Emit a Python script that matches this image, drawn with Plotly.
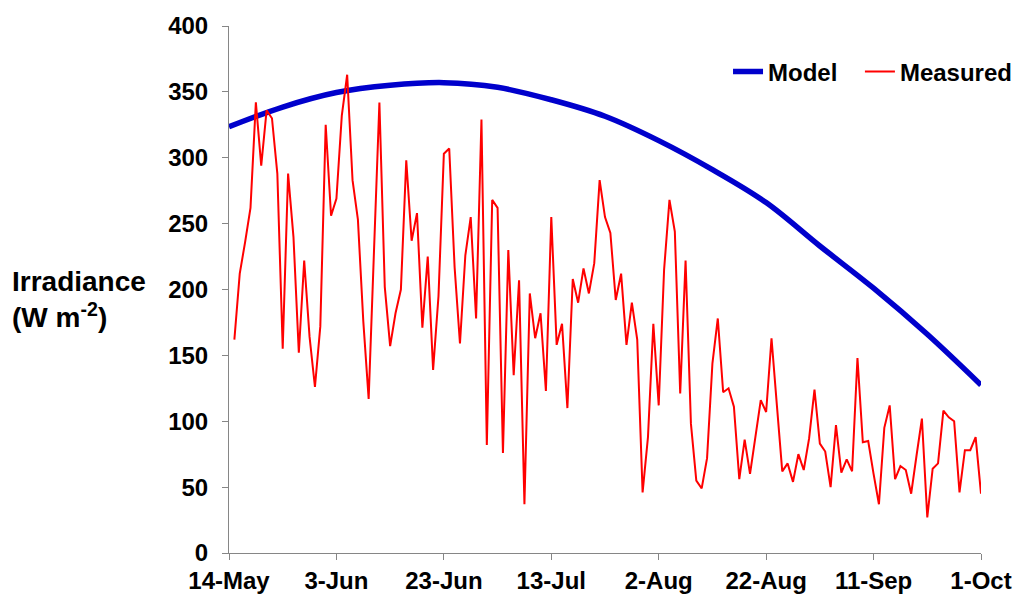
import plotly.graph_objects as go
import pandas as pd

# Measured daily irradiance, 15-May .. 1-Oct (W m-2)
measured_start = "2010-05-15"
measured = [162, 212, 236, 262, 342, 294, 336, 330, 288, 155,
            288, 240, 152, 222, 164, 126, 172, 325, 256, 269,
            332, 363, 283, 253, 176, 117, 230, 342, 202, 157,
            182, 200, 298, 237, 258, 171, 225, 139, 195, 303,
            307, 217, 159, 226, 255, 178, 329, 82, 268, 262,
            76, 230, 135, 207, 37, 197, 163, 182, 123, 255,
            158, 174, 110, 208, 190, 216, 197, 220, 283, 255,
            243, 192, 212, 158, 190, 162, 46, 88, 174, 112,
            215, 268, 244, 121, 222, 98, 55, 49, 72, 144,
            178, 122, 125, 111, 56, 86, 60, 88, 116, 107,
            163, 112, 62, 68, 54, 75, 63, 87, 124, 83,
            77, 50, 97, 61, 71, 62, 148, 84, 85, 60,
            37, 95, 112, 56, 66, 63, 45, 74, 102, 27,
            64, 68, 108, 103, 100, 46, 78, 78, 88, 45]

# Model irradiance read every 10 days from 14-May
model_dates = ["2010-05-14", "2010-05-24", "2010-06-03", "2010-06-13", "2010-06-23",
               "2010-07-03", "2010-07-13", "2010-07-23", "2010-08-02", "2010-08-12",
               "2010-08-22", "2010-09-01", "2010-09-11", "2010-09-21", "2010-10-01"]
model = [323.5, 338.5, 349.5, 355, 357, 353.5, 344, 331.5, 313, 291,
         266, 233, 201, 166, 127.5]

tick_dates = ["2010-05-14", "2010-06-03", "2010-06-23", "2010-07-13",
              "2010-08-02", "2010-08-22", "2010-09-11", "2010-10-01"]
tick_labels = ["14-May", "3-Jun", "23-Jun", "13-Jul", "2-Aug", "22-Aug", "11-Sep", "1-Oct"]
y_ticks = [0, 50, 100, 150, 200, 250, 300, 350, 400]

measured_dates = pd.date_range(measured_start, periods=len(measured), freq="D")

FONT = "Liberation Sans, Arial, sans-serif"
LEG_FONT = dict(family=FONT, size=24, color="black", weight="bold")
TICK_FONT = dict(family=FONT, size=24, color="black", weight="bold")

fig = go.Figure()
fig.add_trace(go.Scatter(x=model_dates, y=model, mode="lines", name="Model",
                         line=dict(color="#0000CC", width=5.5, shape="spline"),
                         legend="legend", yaxis="y"))
fig.add_trace(go.Scatter(x=measured_dates, y=measured, mode="lines", name="Measured",
                         line=dict(color="#FF0000", width=2), legend="legend2",
                         yaxis="y2"))

fig.update_layout(
    width=1005, height=588,
    margin=dict(l=221, r=32, t=18, b=43, autoexpand=False),
    paper_bgcolor="white", plot_bgcolor="white",
    font=dict(family=FONT, color="black"),
    showlegend=True,
    legend=dict(x=0.6636, xanchor="left", y=0.913, yanchor="middle",
                font=LEG_FONT, bgcolor="rgba(0,0,0,0)", itemwidth=30),
    legend2=dict(x=0.839, xanchor="left", y=0.913, yanchor="middle",
                 font=LEG_FONT, bgcolor="rgba(0,0,0,0)", itemwidth=30),
    yaxis=dict(
        range=[0, 400], tickvals=y_ticks, automargin=False, showticklabels=False,
        showgrid=False, zeroline=False, showline=True, linecolor="#868686", linewidth=1,
        ticks="outside", ticklen=6, tickcolor="#868686",
    ),
    # same scale, carries the tick numbers a little further from the axis line
    yaxis2=dict(overlaying="y", side="left", range=[0, 400], tickvals=y_ticks,
                tickfont=TICK_FONT, ticks="outside", ticklen=15,
                tickcolor="rgba(0,0,0,0)", showline=False, showgrid=False,
                zeroline=False, automargin=False),
)
fig.update_xaxes(
    type="date", range=["2010-05-14", "2010-10-01"],
    tickvals=tick_dates, ticktext=tick_labels, automargin=False,
    tickfont=TICK_FONT,
    showgrid=False, zeroline=False, showline=True, linecolor="#868686", linewidth=1,
    ticks="outside", ticklen=6, tickcolor="#868686",
)
fig.add_annotation(
    xref="paper", yref="paper", x=-0.2912, y=0.481, xanchor="left", yanchor="middle",
    text="Irradiance<br>(W m<sup>-2</sup>)", showarrow=False, align="left",
    font=dict(family=FONT, size=28, color="black", weight="bold"),
)
fig.write_html("out.html")
